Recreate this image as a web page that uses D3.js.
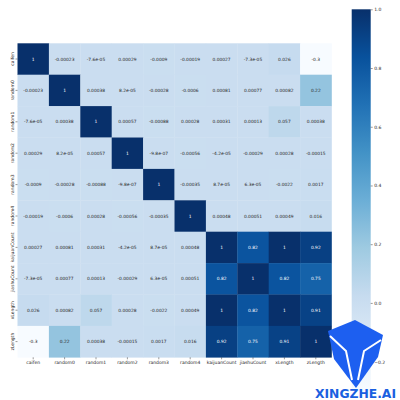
<!DOCTYPE html>
<html><head><meta charset="utf-8">
<script src="https://cdn.jsdelivr.net/npm/d3@7"></script>
<style>body{margin:0;background:#fff}svg{display:block}text{font-family:"DejaVu Sans",sans-serif}</style>
</head><body><svg id="c" width="400" height="400"></svg>
<script>
const labels = ["caifen","random0","random1","random2","random3","random4","kaijuanCount","jiashuCount","xLength","zLength"];
const row0 = [1,-0.00023,-7.6e-05,0.00029,-0.0009,-0.00019,0.00027,-7.3e-05,0.026,-0.3];
const row1 = [-0.00023,1,0.00038,8.2e-05,-0.00028,-0.0006,0.00081,0.00077,0.00082,0.22];
const row2 = [-7.6e-05,0.00038,1,0.00057,-0.00088,0.00028,0.00031,0.00013,0.057,0.00038];
const row3 = [0.00029,8.2e-05,0.00057,1,-9.8e-07,-0.00056,-4.2e-05,-0.00029,0.00028,-0.00015];
const row4 = [-0.0009,-0.00028,-0.00088,-9.8e-07,1,-0.00035,8.7e-05,6.3e-05,-0.0022,0.0017];
const row5 = [-0.00019,-0.0006,0.00028,-0.00056,-0.00035,1,0.00048,0.00051,0.00049,0.016];
const row6 = [0.00027,0.00081,0.00031,-4.2e-05,8.7e-05,0.00048,1,0.82,1,0.92];
const row7 = [-7.3e-05,0.00077,0.00013,-0.00029,6.3e-05,0.00051,0.82,1,0.82,0.75];
const row8 = [0.026,0.00082,0.057,0.00028,-0.0022,0.00049,1,0.82,1,0.91];
const row9 = [-0.3,0.22,0.00038,-0.00015,0.0017,0.016,0.92,0.75,0.91,1];
const matrix = [row0,row1,row2,row3,row4,row5,row6,row7,row8,row9];
const colorbarTicks = [-0.2,0.0,0.2,0.4,0.6,0.8,1.0];
const vmin = -0.3, vmax = 1.0;
const blues = ["#f7fbff","#deebf7","#c6dbef","#9ecae1","#6baed6","#4292c6","#2171b5","#08519c","#08306b"];

function fmt(v){
  if (v === 0) return "0";
  const e = Math.floor(Math.log10(Math.abs(v)));
  if (e < -4) return v.toExponential(1).replace(/e([+-])(\d)$/, "e$10$2");
  return String(+v.toPrecision(2));
}

const svg = d3.select("#c");
const x = d3.scaleBand().domain(labels).range([17.5, 331.5]);
const y = d3.scaleBand().domain(labels).range([43.3, 357.3]);
const color = d3.scaleLinear().domain(blues.map((_, i) => vmin + (vmax - vmin) * i / (blues.length - 1))).range(blues).interpolate(d3.interpolateRgb);

const cells = [];
matrix.forEach((r, i) => r.forEach((v, j) => cells.push({row: labels[i], col: labels[j], v})));

svg.append("g").selectAll("rect").data(cells).join("rect")
  .attr("x", d => x(d.col)).attr("y", d => y(d.row))
  .attr("width", x.bandwidth() + 0.3).attr("height", y.bandwidth() + 0.3)
  .attr("fill", d => color(d.v));

function lum(c){
  const rgb = d3.rgb(c);
  const f = u => { u /= 255; return u <= 0.03928 ? u / 12.92 : Math.pow((u + 0.055) / 1.055, 2.4); };
  return 0.2126 * f(rgb.r) + 0.7152 * f(rgb.g) + 0.0722 * f(rgb.b);
}

svg.append("g").selectAll("text").data(cells).join("text")
  .attr("x", d => x(d.col) + x.bandwidth() / 2)
  .attr("y", d => y(d.row) + y.bandwidth() / 2)
  .attr("text-anchor", "middle").attr("dominant-baseline", "central")
  .attr("font-size", 4.4)
  .attr("fill", d => lum(color(d.v)) > 0.408 ? "#262626" : "#ffffff")
  .text(d => fmt(d.v));

const xAxis = svg.append("g").attr("transform", "translate(0,357.3)")
  .call(d3.axisBottom(x).tickSize(2).tickPadding(1.5));
xAxis.select(".domain").remove();
xAxis.selectAll("line").attr("stroke", "#333").attr("stroke-width", 0.5);
xAxis.selectAll("text").attr("font-size", 4.5).attr("fill", "#262626");

const yAxis = svg.append("g").attr("transform", "translate(17.5,0)")
  .call(d3.axisLeft(y).tickSize(2).tickPadding(1.5));
yAxis.select(".domain").remove();
yAxis.selectAll("line").attr("stroke", "#333").attr("stroke-width", 0.5);
yAxis.selectAll("text").attr("font-size", 4.5).attr("fill", "#262626")
  .attr("text-anchor", "middle").attr("dy", 0)
  .attr("transform", function(){ return "translate(-5.5,0) rotate(-90)"; })
  .attr("x", 0).attr("y", 0).attr("dominant-baseline", "central");

// colorbar
const cbX = 351.7, cbW = 19;
const cy = d3.scaleLinear().domain([vmin, vmax]).range([391, 9.3]);
const defs = svg.append("defs");
const grad = defs.append("linearGradient").attr("id", "cbg").attr("x1", 0).attr("y1", 1).attr("x2", 0).attr("y2", 0);
blues.forEach((c, i) => grad.append("stop").attr("offset", i / (blues.length - 1)).attr("stop-color", c));
svg.append("rect").attr("x", cbX).attr("y", cy(vmax)).attr("width", cbW).attr("height", cy(vmin) - cy(vmax)).attr("fill", "url(#cbg)");
const cAxis = svg.append("g").attr("transform", `translate(${cbX + cbW},0)`)
  .call(d3.axisRight(cy).tickValues(colorbarTicks).tickFormat(d3.format(".1f")).tickSize(2).tickPadding(1.5));
cAxis.select(".domain").remove();
cAxis.selectAll("line").attr("stroke", "#333").attr("stroke-width", 0.5);
cAxis.selectAll("text").attr("font-size", 4.5).attr("fill", "#262626");

// watermark logo
const logo = svg.append("g");
logo.append("polygon").attr("points", "355,320 383,335 378,357 356,388 334,359 328,331").attr("fill", "#1d5ff0");
logo.append("polyline").attr("points", "330,336 346,351 352,380").attr("fill", "none").attr("stroke", "#fff").attr("stroke-width", 2);
logo.append("polyline").attr("points", "381,340 364,351 358,380").attr("fill", "none").attr("stroke", "#fff").attr("stroke-width", 2);
logo.append("text").attr("x", 315).attr("y", 397.5).attr("textLength", 81).attr("lengthAdjust", "spacingAndGlyphs")
  .attr("font-family", "Liberation Sans, Arial, sans-serif").attr("font-weight", "bold").attr("font-size", 12)
  .attr("fill", "#1a60e0").text("XINGZHE.AI");
</script></body></html>
